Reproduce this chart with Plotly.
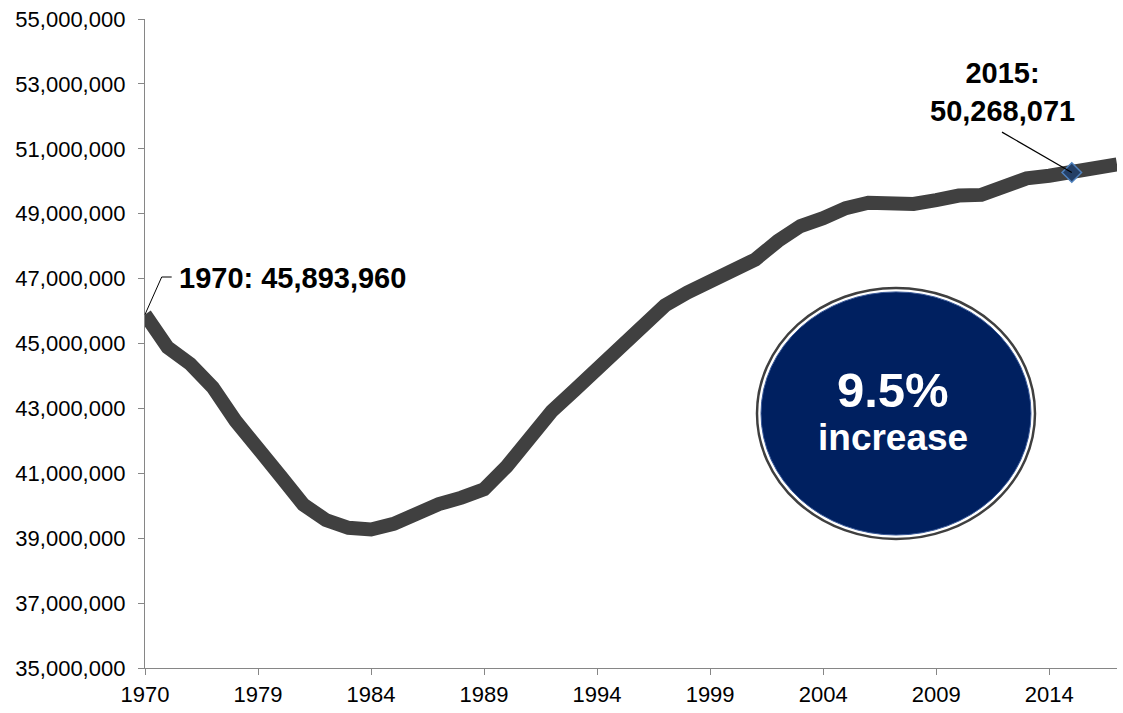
import plotly.graph_objects as go

years = ["1970", "1975", "1976", "1977", "1978"] + [str(y) for y in range(1979, 2018)]
population = [
    45893960, 44880000, 44370000, 43650000, 42620000, 41700000, 40910000, 40040000,
    39560000, 39320000, 39270000, 39440000, 39760000, 40050000, 40250000, 40510000,
    41210000, 42130000, 42920000, 43560000, 44220000, 44940000, 45650000, 46170000,
    46570000, 46880000, 47240000, 47590000, 48160000, 48620000, 48860000, 49170000,
    49340000, 49320000, 49300000, 49420000, 49560000, 49580000, 49840000, 50090000,
    50170000, 50268071, 50450000, 50520000,
]
tick_years = ["1970", "1979", "1984", "1989", "1994", "1999", "2004", "2009", "2014"]
y_ticks = list(range(35000000, 55000001, 2000000))
highlight_year = "2015"
highlight_value = 50268071
start_label = "1970: 45,893,960"
end_label = "2015:<br>50,268,071"
circle_big = "9.5%"
circle_small = "increase"

YMIN, YMAX = 35000000, 55000000
W, H = 1123, 713
ML, MR, MT, MB = 145, 6, 19, 40
PW, PH = W - ML - MR, H - MT - MB
FONT = "Liberation Sans, Arial, sans-serif"
AXIS_COL = "#868686"


def px_to_paper(px, py):
    return (px - ML) / PW, (H - MB - py) / PH


n = len(years)
fig = go.Figure()
fig.add_trace(go.Scatter(
    x=years, y=population, mode="lines",
    line=dict(color="#404040", width=14),
    hoverinfo="skip", showlegend=False,
))
hi = years.index(highlight_year)
fig.add_trace(go.Scatter(
    x=[highlight_year], y=[highlight_value], mode="markers",
    marker=dict(symbol="diamond", size=15, color="#243F66",
                line=dict(color="#4F81BD", width=1.5)),
    hoverinfo="skip", showlegend=False,
))


def data_to_paper(idx, val):
    return idx / (n - 1), (val - YMIN) / (YMAX - YMIN)


sx, sy = data_to_paper(0, population[0])
b1 = px_to_paper(161.7, 279)
b2 = px_to_paper(171.7, 279)
hx, hy = data_to_paper(hi, highlight_value)
l1 = px_to_paper(1002, 133)

ox0, oy0 = px_to_paper(757, 543)
ox1, oy1 = px_to_paper(1035, 290)
ix0, iy0 = px_to_paper(761, 539)
ix1, iy1 = px_to_paper(1031, 294)

shapes = [
    dict(type="path", xref="paper", yref="paper",
         path=f"M {sx},{sy} L {b1[0]},{b1[1]} L {b2[0]},{b2[1]}",
         line=dict(color="black", width=1)),
    dict(type="line", xref="paper", yref="paper", x0=l1[0], y0=l1[1], x1=hx, y1=hy,
         line=dict(color="black", width=1.2)),
    dict(type="circle", xref="paper", yref="paper", x0=ox0, y0=oy0, x1=ox1, y1=oy1,
         line=dict(color="#3F3F3F", width=2.5), fillcolor="white"),
    dict(type="circle", xref="paper", yref="paper", x0=ix0, y0=iy0, x1=ix1, y1=iy1,
         line=dict(color="#3A5A9A", width=1), fillcolor="#002060"),
]

a1 = px_to_paper(177, 280)
a2 = px_to_paper(1002, 93)
c1 = px_to_paper(893, 393)
c2 = px_to_paper(893, 441)
annotations = [
    dict(xref="paper", yref="paper", x=a1[0], y=a1[1], text=f"<b>{start_label}</b>",
         showarrow=False, xanchor="left", yanchor="middle",
         font=dict(family=FONT, size=29, color="black")),
    dict(xref="paper", yref="paper", x=a2[0], y=a2[1], text=f"<b>{end_label}</b>",
         showarrow=False, xanchor="center", yanchor="middle",
         font=dict(family=FONT, size=29, color="black")),
    dict(xref="paper", yref="paper", x=c1[0], y=c1[1], text=f"<b>{circle_big}</b>",
         showarrow=False, xanchor="center", yanchor="middle",
         font=dict(family=FONT, size=49, color="white")),
    dict(xref="paper", yref="paper", x=c2[0], y=c2[1], text=f"<b>{circle_small}</b>",
         showarrow=False, xanchor="center", yanchor="middle",
         font=dict(family=FONT, size=37, color="white")),
]

fig.update_layout(
    width=W, height=H,
    margin=dict(l=ML, r=MR, t=MT, b=MB),
    paper_bgcolor="white", plot_bgcolor="white",
    shapes=shapes, annotations=annotations,
    font=dict(family=FONT, size=22, color="black"),
    xaxis=dict(
        type="category", categoryorder="array", categoryarray=years,
        range=[0, n - 1], tickmode="array", tickvals=tick_years, ticktext=tick_years,
        showline=True, linecolor=AXIS_COL, linewidth=1.3,
        ticks="outside", ticklen=6, tickcolor=AXIS_COL, tickwidth=1.3,
        showgrid=False, zeroline=False,
        tickfont=dict(family=FONT, size=22, color="black"),
    ),
    yaxis=dict(
        range=[YMIN, YMAX], tickmode="array", tickvals=y_ticks,
        tickformat=",d", showline=True, linecolor=AXIS_COL, linewidth=1.3,
        ticks="outside", ticklen=6, tickcolor=AXIS_COL, tickwidth=1.3,
        ticklabelstandoff=8,
        showgrid=False, zeroline=False,
        tickfont=dict(family=FONT, size=22, color="black"),
    ),
)

fig.write_html(
    "out.html",
    config={"displayModeBar": False},
    post_script="document.body.style.margin='0';document.body.style.overflow='hidden';",
)
